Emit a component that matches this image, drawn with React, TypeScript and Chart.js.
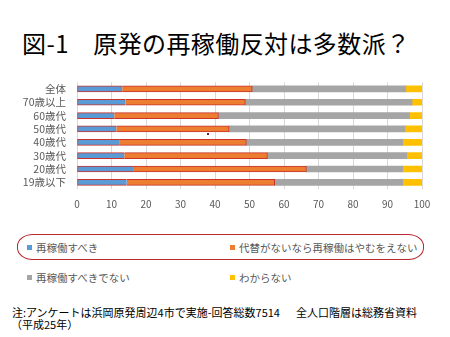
import React, { useEffect, useRef } from "react";
import { Chart, registerables } from "chart.js";

Chart.register(...registerables);

const categories = ["全体", "70歳以上", "60歳代", "50歳代", "40歳代", "30歳代", "20歳代", "19歳以下"];
const seriesNames = ["再稼働すべき", "代替がないなら再稼働はやむをえない", "再稼働すべきでない", "わからない"];
const restartShould = [13.1, 14.1, 10.8, 11.4, 12.2, 13.7, 16.5, 14.4];
const unavoidable = [37.7, 34.7, 30.2, 32.7, 36.9, 41.5, 50.0, 42.9];
const shouldNot = [44.5, 48.3, 55.4, 51.0, 45.3, 40.4, 27.9, 37.1];
const unknown = [4.7, 2.9, 3.6, 4.9, 5.6, 4.4, 5.6, 5.6];
const xTicks = [0, 10, 20, 30, 40, 50, 60, 70, 80, 90, 100];

const colors = ["#5b9bd5", "#ed7d31", "#a5a5a5", "#ffc000"];
const FONT = "'Noto Sans CJK JP', 'Noto Sans', sans-serif";

export default function App() {
  const ref = useRef<HTMLCanvasElement | null>(null);

  useEffect(() => {
    if (!ref.current) return;
    const red = "#c8322b";
    const chart = new Chart(ref.current, {
      type: "bar",
      data: {
        labels: categories,
        datasets: [
          {
            label: seriesNames[0],
            data: restartShould,
            backgroundColor: colors[0],
            borderColor: red,
            borderWidth: { top: 1, bottom: 1, left: 1, right: 0 } as any,
            borderSkipped: false,
            barThickness: 6,
          },
          {
            label: seriesNames[1],
            data: unavoidable,
            backgroundColor: colors[1],
            borderColor: red,
            borderWidth: { top: 1, bottom: 1, left: 0, right: 1 } as any,
            borderSkipped: false,
            barThickness: 6,
          },
          {
            label: seriesNames[2],
            data: shouldNot,
            backgroundColor: colors[2],
            borderWidth: 0,
            barThickness: 6,
          },
          {
            label: seriesNames[3],
            data: unknown,
            backgroundColor: colors[3],
            borderWidth: 0,
            barThickness: 6,
          },
        ],
      },
      options: {
        indexAxis: "y",
        animation: false,
        responsive: false,
        devicePixelRatio: 1,
        layout: { padding: { left: 0, right: 28, top: 9, bottom: 0 } },
        plugins: { legend: { display: false }, tooltip: { enabled: false } },
        scales: {
          x: {
            stacked: true,
            min: 0,
            max: 100,
            afterBuildTicks: (scale: any) => {
              scale.ticks = xTicks.map((v) => ({ value: v }));
            },
            afterFit: (scale: any) => {
              scale.height = 29;
            },
            grid: { color: "#d9d9d9", drawTicks: false },
            border: { display: false },
            ticks: {
              color: "#595959",
              font: { family: FONT, size: 10 },
              padding: 9,
              maxRotation: 0,
              autoSkip: false,
            },
          },
          y: {
            stacked: true,
            afterFit: (scale: any) => {
              scale.width = 77;
            },
            grid: { display: false, drawTicks: false },
            border: { display: false },
            ticks: {
              color: "#595959",
              font: { family: FONT, size: 10.5, lineHeight: 1 },
              padding: 11,
              autoSkip: false,
            },
          },
        },
      },
    });
    return () => chart.destroy();
  }, []);

  const legendItem = (i: number, left: number, top: number) => (
    <div
      key={i}
      style={{
        position: "absolute",
        left,
        top,
        height: 14,
        display: "flex",
        alignItems: "center",
        fontFamily: FONT,
        fontSize: 10.5,
        color: "#595959",
        whiteSpace: "nowrap",
      }}
    >
      <span style={{ display: "inline-block", width: 5, height: 5, background: colors[i], marginRight: 4 }} />
      <span>{seriesNames[i]}</span>
    </div>
  );

  const noteStyle: React.CSSProperties = {
    position: "absolute",
    fontFamily: FONT,
    fontSize: 11,
    lineHeight: "12px",
    color: "#000",
    whiteSpace: "nowrap",
  };

  return (
    <div
      style={{
        position: "absolute",
        left: 0,
        top: 0,
        width: 450,
        height: 337,
        background: "#fff",
        overflow: "hidden",
      }}
    >
      <div
        style={{
          position: "absolute",
          left: 22,
          top: 28,
          fontFamily: FONT,
          fontSize: 24,
          lineHeight: "30px",
          color: "#000",
          whiteSpace: "nowrap",
          letterSpacing: 0.4,
        }}
      >
        図-1　原発の再稼働反対は多数派？
      </div>
      <canvas ref={ref} width={450} height={152} style={{ position: "absolute", left: 0, top: 66, width: 450, height: 152 }} />
      <div
        style={{
          position: "absolute",
          left: 207,
          top: 133,
          width: 2,
          height: 2,
          background: "#7a1a4a",
        }}
      />
      <div
        style={{
          position: "absolute",
          left: 17,
          top: 234,
          width: 405,
          height: 24,
          border: "1px solid #b8282e",
          borderRadius: "16px / 12px",
        }}
      />
      {legendItem(0, 27, 240)}
      {legendItem(1, 230, 240)}
      {legendItem(2, 27, 270)}
      {legendItem(3, 230, 270)}
      <div style={{ ...noteStyle, left: 12, top: 306 }}>
        注:アンケートは浜岡原発周辺4市で実施-回答総数7514
      </div>
      <div style={{ ...noteStyle, left: 296, top: 306 }}>全人口階層は総務省資料</div>
      <div style={{ ...noteStyle, left: 11, top: 318 }}>（平成25年）</div>
    </div>
  );
}
